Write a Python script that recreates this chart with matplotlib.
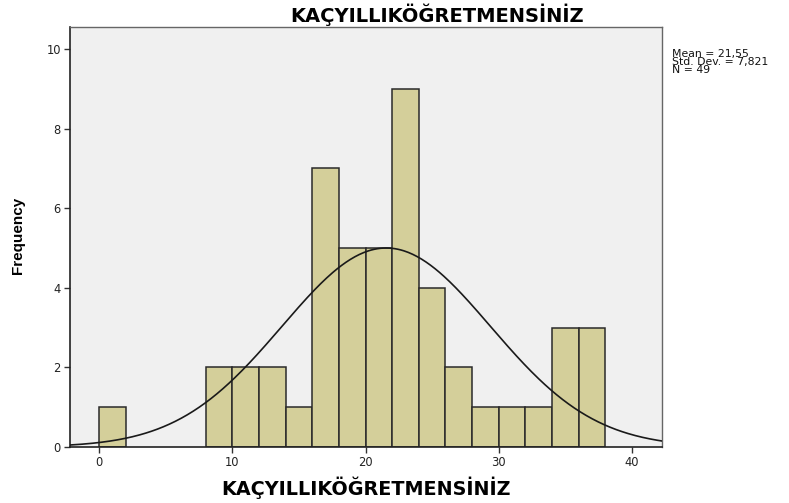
import numpy as np
import matplotlib
matplotlib.use("Agg")
import matplotlib.pyplot as plt
from matplotlib import font_manager

title = "KAÇYILLIKÖĞRETMENSİNİZ"
bin_lefts = [0, 8, 10, 12, 14, 16, 18, 20, 22, 24, 26, 28, 30, 32, 34, 36]
counts = [1, 2, 2, 2, 1, 7, 5, 5, 9, 4, 2, 1, 1, 1, 3, 3]
bin_width = 2
mean = 21.55
sd = 7.821
n = 49
xticks = [0, 10, 20, 30, 40]
yticks = [0, 2, 4, 6, 8, 10]
stats_lines = ["Mean = 21,55", "Std. Dev. = 7,821", "N = 49"]

names = {f.name for f in font_manager.fontManager.ttflist}
narrow = "Liberation Sans Narrow" if "Liberation Sans Narrow" in names else "Liberation Sans"
plt.rcParams['font.family'] = ['DejaVu Sans']

fig = plt.figure(figsize=(7.89, 5.03), dpi=100)
ax = fig.add_axes([70/789, 56/503, 592/789, 420/503])
ax.set_facecolor('#F0F0F0')

ax.bar(bin_lefts, counts, width=bin_width, align='edge', color='#D4CF9A',
       edgecolor='#2a2a2a', linewidth=1.1, zorder=2)

xs = np.linspace(-2.18, 42.25, 400)
ys = n * bin_width / (sd * np.sqrt(2 * np.pi)) * np.exp(-0.5 * ((xs - mean) / sd) ** 2)
ax.plot(xs, ys, color='#1a1a1a', linewidth=1.2, zorder=3)

ax.set_xlim(-2.18, 42.25)
ax.set_ylim(0, 10.55)
ax.set_xticks(xticks)
ax.set_yticks(yticks)
ax.tick_params(axis='both', direction='out', length=4.5, width=1, color='#333333',
               labelsize=8.3, labelcolor='#222222', pad=2)
ax.tick_params(top=False, right=False)
for side in ['left', 'bottom']:
    ax.spines[side].set_color('#222222')
    ax.spines[side].set_linewidth(1.2)
for side in ['top', 'right']:
    ax.spines[side].set_color('#666666')
    ax.spines[side].set_linewidth(1.0)

ax.set_xlabel(title, fontsize=13.8, fontweight='bold', va='center')
ax.xaxis.set_label_coords(0.5, (447 - 488) / 420)
ax.set_ylabel("Frequency", fontsize=11, fontweight='bold', family=[narrow, 'DejaVu Sans'],
              va='center')
ax.yaxis.set_label_coords((18 - 70) / 592, (447 - 235) / 420)

fig.text(437/789, 1 - 15/503, title, ha='center', va='center', fontsize=14, fontweight='bold')
fig.text(672/789, 1 - 49/503, "\n".join(stats_lines), ha='left', va='top',
         fontsize=7.8, linespacing=0.78, color='#111111')

fig.savefig("out.png", dpi=100)
